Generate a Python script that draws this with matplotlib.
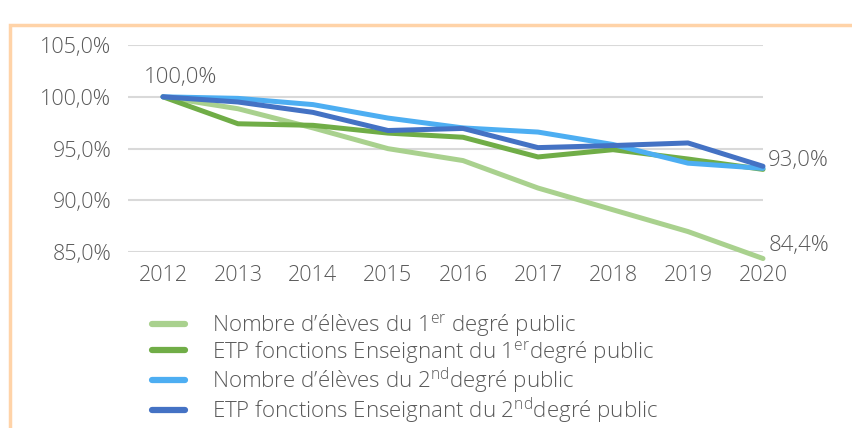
import matplotlib
matplotlib.use('Agg')
import matplotlib.pyplot as plt
from matplotlib.patches import Rectangle

# Data (base 100 in 2012)
years = [2012, 2013, 2014, 2015, 2016, 2017, 2018, 2019, 2020]
eleves_1er = [100.0, 98.85, 97.0, 95.0, 93.85, 91.2, 89.1, 87.0, 84.4]
etp_1er = [100.0, 97.4, 97.25, 96.5, 96.1, 94.2, 94.9, 94.0, 93.0]
eleves_2nd = [100.0, 99.85, 99.25, 97.95, 97.0, 96.6, 95.4, 93.6, 93.1]
etp_2nd = [100.0, 99.5, 98.5, 96.75, 96.95, 95.1, 95.3, 95.55, 93.3]

labels = [
    'Nombre d\u2019élèves du 1$^{\\mathrm{er}}$ degré public',
    'ETP fonctions Enseignant du 1$^{\\mathrm{er}}$degré public',
    'Nombre d\u2019élèves du 2$^{\\mathrm{nd}}$degré public',
    'ETP fonctions Enseignant du 2$^{\\mathrm{nd}}$degré public',
]
series = [eleves_1er, etp_1er, eleves_2nd, etp_2nd]
colors = ['#A9D18E', '#70AD47', '#4DAEF2', '#4472C4']
yticks = [85, 90, 95, 100, 105]

plt.rcParams['font.family'] = ['Open Sans', 'DejaVu Sans']
plt.rcParams['font.weight'] = 'light'
plt.rcParams['mathtext.fontset'] = 'custom'
plt.rcParams['mathtext.rm'] = 'Open Sans:light'
text_color = '#595959'
fs = 15.5

W, H = 853, 428
fig = plt.figure(figsize=(W / 100, H / 100), dpi=100)
ax = fig.add_axes([128 / W, 1 - 252.3 / H, (763 - 128) / W, (252.3 - 45) / H])

for vals, col, lab in zip(series, colors, labels):
    ax.plot(years, vals, color=col, lw=3.6, label=lab, solid_capstyle='round',
            solid_joinstyle='round', clip_on=False)

ax.set_xlim(2012 - 35 / 75, 2020)
ax.set_ylim(85, 105)
ax.set_xticks(years)
ax.set_yticks(yticks)
ax.set_yticklabels([f'{v:.1f}%'.replace('.', ',') for v in yticks])
ax.tick_params(length=0, labelsize=fs, colors=text_color)
ax.tick_params(axis='y', pad=12)
ax.tick_params(axis='x', pad=9)
ax.grid(axis='y', color='#D9D9D9', lw=1.5)
ax.set_axisbelow(True)
for s in ax.spines.values():
    s.set_visible(False)

# data labels
ax.annotate('100,0%', (2012, 100), xytext=(18, 9), textcoords='offset pixels',
            ha='center', va='bottom', fontsize=16, color=text_color, annotation_clip=False)
ax.annotate('93,0%', (2020, etp_1er[-1]), xytext=(5, 9), textcoords='offset pixels',
            ha='left', va='center', fontsize=16, color=text_color, annotation_clip=False)
ax.annotate('84,4%', (2020, eleves_1er[-1]), xytext=(6, 13), textcoords='offset pixels',
            ha='left', va='center', fontsize=16, color=text_color, annotation_clip=False)

leg = fig.legend(loc='upper left', bbox_to_anchor=(152 / W, 1 - 312 / H), frameon=False,
                 fontsize=16, handlelength=1.5, handletextpad=1.2, labelspacing=0.0,
                 borderpad=0, borderaxespad=0)
for t in leg.get_texts():
    t.set_color(text_color)
for h in leg.legend_handles:
    h.set_linewidth(4.5)

# orange frame
fig.patches.append(Rectangle((10 / W, -0.1), 2, 1 - 25 / H + 0.1, transform=fig.transFigure,
                             fill=False, edgecolor='#FFD3A8', lw=2.5))

fig.savefig('out.png', dpi=100)
